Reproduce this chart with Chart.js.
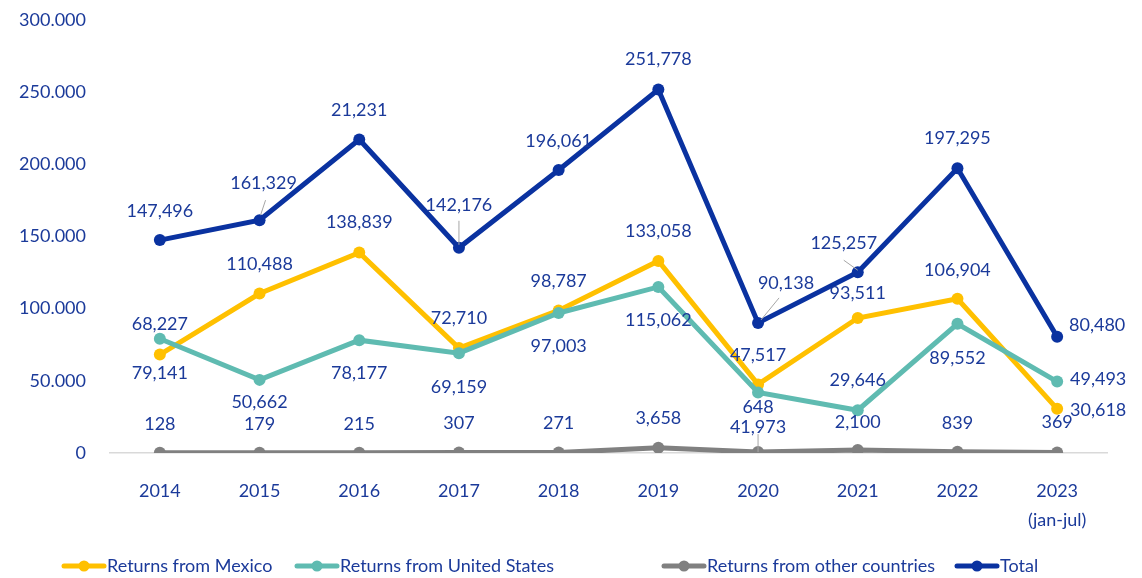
<!DOCTYPE html>
<html>
<head>
<meta charset="utf-8">
<script src="https://cdn.jsdelivr.net/npm/chart.js@4/dist/chart.umd.min.js"></script>
<style>
  html, body { margin: 0; padding: 0; background: #ffffff; }
  #wrap { position: relative; width: 1142px; height: 578px; }
</style>
</head>
<body>
<div id="wrap"><canvas id="c" width="1142" height="578"></canvas></div>
<script>
// ---- Data ----
const categories = ['2014', '2015', '2016', '2017', '2018', '2019', '2020', '2021', '2022', ['2023', '(jan-jul)']];
const seriesNames = ['Returns from Mexico', 'Returns from United States', 'Returns from other countries', 'Total'];
const mexico = [68227, 110488, 138839, 72710, 98787, 133058, 47517, 93511, 106904, 30618];
const unitedStates = [79141, 50662, 78177, 69159, 97003, 115062, 41973, 29646, 89552, 49493];
const otherCountries = [128, 179, 215, 307, 271, 3658, 648, 2100, 839, 369];
const total = [147496, 161329, 217231, 142176, 196061, 251778, 90138, 125257, 197295, 80480];
// data label texts as printed in the source
const mexicoLabels = ['68,227', '110,488', '138,839', '72,710', '98,787', '133,058', '47,517', '93,511', '106,904', '30,618'];
const unitedStatesLabels = ['79,141', '50,662', '78,177', '69,159', '97,003', '115,062', '41,973', '29,646', '89,552', '49,493'];
const otherLabels = ['128', '179', '215', '307', '271', '3,658', '648', '2,100', '839', '369'];
const totalLabels = ['147,496', '161,329', '21,231', '142,176', '196,061', '251,778', '90,138', '125,257', '197,295', '80,480'];
const yTicks = [0, 50000, 100000, 150000, 200000, 250000, 300000];

// ---- Styling / label placement ----
const TEXT = '#1b3a9a';
const FONT = 'Lato, "Open Sans", sans-serif';
const colors = ['#ffc000', '#5fbbb1', '#808080', '#0a32a0'];
const labelOffsets = [
  [[0,-30],[0,-29],[0,-30],[0,-30],[0,-29],[0,-30],[0,-29],[0,-25],[0,-29],[41,1]],
  [[0,34],[0,22],[0,33],[0,34],[0,33],[0,33],[0,35],[0,-30],[0,34],[41,-2]],
  [[0,-29],[0,-29],[0,-29],[0,-29],[0,-29],[0,-30],[0,-45],[0,-28],[0,-29],[0,-30]],
  [[0,-29],[4,-37],[0,-29],[0,-43],[0,-29],[0,-30],[28,-40],[-14,-29],[0,-30],[40,-12]]
];
const leaders = [
  {ds: 3, i: 1, from: [1,-5], to: [6,-20]},
  {ds: 3, i: 3, from: [0,-3], to: [0,-27]},
  {ds: 3, i: 6, from: [3,-3], to: [21,-25]},
  {ds: 3, i: 7, from: [0,-2], to: [-14,-12]},
  {ds: 2, i: 6, from: [0,0], to: [0,-18]}
];
const legendX = [62, 295, 662, 955];

const allLabels = [mexicoLabels, unitedStatesLabels, otherLabels, totalLabels];

const labelPlugin = {
  id: 'customLabels',
  afterDatasetsDraw(chart) {
    const ctx = chart.ctx;
    ctx.save();
    ctx.strokeStyle = '#a6a6a6';
    ctx.lineWidth = 1;
    leaders.forEach(l => {
      const p = chart.getDatasetMeta(l.ds).data[l.i];
      ctx.beginPath();
      ctx.moveTo(p.x + l.from[0], p.y + l.from[1]);
      ctx.lineTo(p.x + l.to[0], p.y + l.to[1]);
      ctx.stroke();
    });
    ctx.font = '18px ' + FONT;
    ctx.fillStyle = TEXT;
    ctx.textAlign = 'center';
    ctx.textBaseline = 'middle';
    for (let d = 0; d < 4; d++) {
      const meta = chart.getDatasetMeta(d);
      meta.data.forEach((p, i) => {
        const o = labelOffsets[d][i];
        ctx.fillText(allLabels[d][i], p.x + o[0], p.y + o[1]);
      });
    }
    ctx.restore();
  },
  afterDraw(chart) {
    const ctx = chart.ctx;
    ctx.save();
    const y = 566;
    ctx.font = '18px ' + FONT;
    ctx.textAlign = 'left';
    ctx.textBaseline = 'middle';
    seriesNames.forEach((name, k) => {
      const x = legendX[k];
      ctx.strokeStyle = colors[k];
      ctx.lineWidth = 5;
      ctx.lineCap = 'round';
      ctx.beginPath();
      ctx.moveTo(x + 2, y);
      ctx.lineTo(x + 42, y);
      ctx.stroke();
      ctx.fillStyle = colors[k];
      ctx.beginPath();
      ctx.arc(x + 22, y, 5.5, 0, Math.PI * 2);
      ctx.fill();
      ctx.fillStyle = TEXT;
      ctx.fillText(name, x + 45, y);
    });
    ctx.restore();
  }
};

const seriesData = [mexico, unitedStates, otherCountries, total];
const datasets = seriesData.map((d, k) => ({
  label: seriesNames[k],
  data: d,
  borderColor: colors[k],
  backgroundColor: colors[k],
  pointBackgroundColor: colors[k],
  pointBorderWidth: 0,
  pointRadius: 6,
  borderWidth: 5,
  tension: 0,
  order: 4 - k
}));

new Chart(document.getElementById('c'), {
  type: 'line',
  data: { labels: categories, datasets },
  options: {
    responsive: false,
    animation: false,
    layout: { padding: { left: 0, right: 35, top: 20, bottom: 40 } },
    plugins: { legend: { display: false }, tooltip: { enabled: false } },
    scales: {
      x: {
        offset: true,
        grid: { display: false, drawTicks: false },
        border: { display: true, color: '#d9d9d9', width: 1.5 },
        ticks: { color: TEXT, font: { family: FONT, size: 18, lineHeight: 1.6 }, padding: 24, maxRotation: 0, autoSkip: false },
        afterFit: s => { s.height = 85; s.paddingLeft = 0; s.paddingRight = 0; s.paddingTop = 0; s.paddingBottom = 0; }
      },
      y: {
        min: 0, max: 300000,
        afterBuildTicks: s => { s.ticks = yTicks.map(v => ({ value: v })); },
        grid: { display: false, drawTicks: false },
        border: { display: false },
        ticks: {
          color: TEXT, font: { family: FONT, size: 18 }, padding: 24,
          callback: v => v === 0 ? '0' : v.toLocaleString('de-DE', { minimumFractionDigits: 0 }).replace(/,/g, '.')
        },
        afterFit: s => { s.width = 110; s.paddingTop = 0; s.paddingBottom = 0; }
      }
    }
  },
  plugins: [labelPlugin]
});
</script>
</body>
</html>
